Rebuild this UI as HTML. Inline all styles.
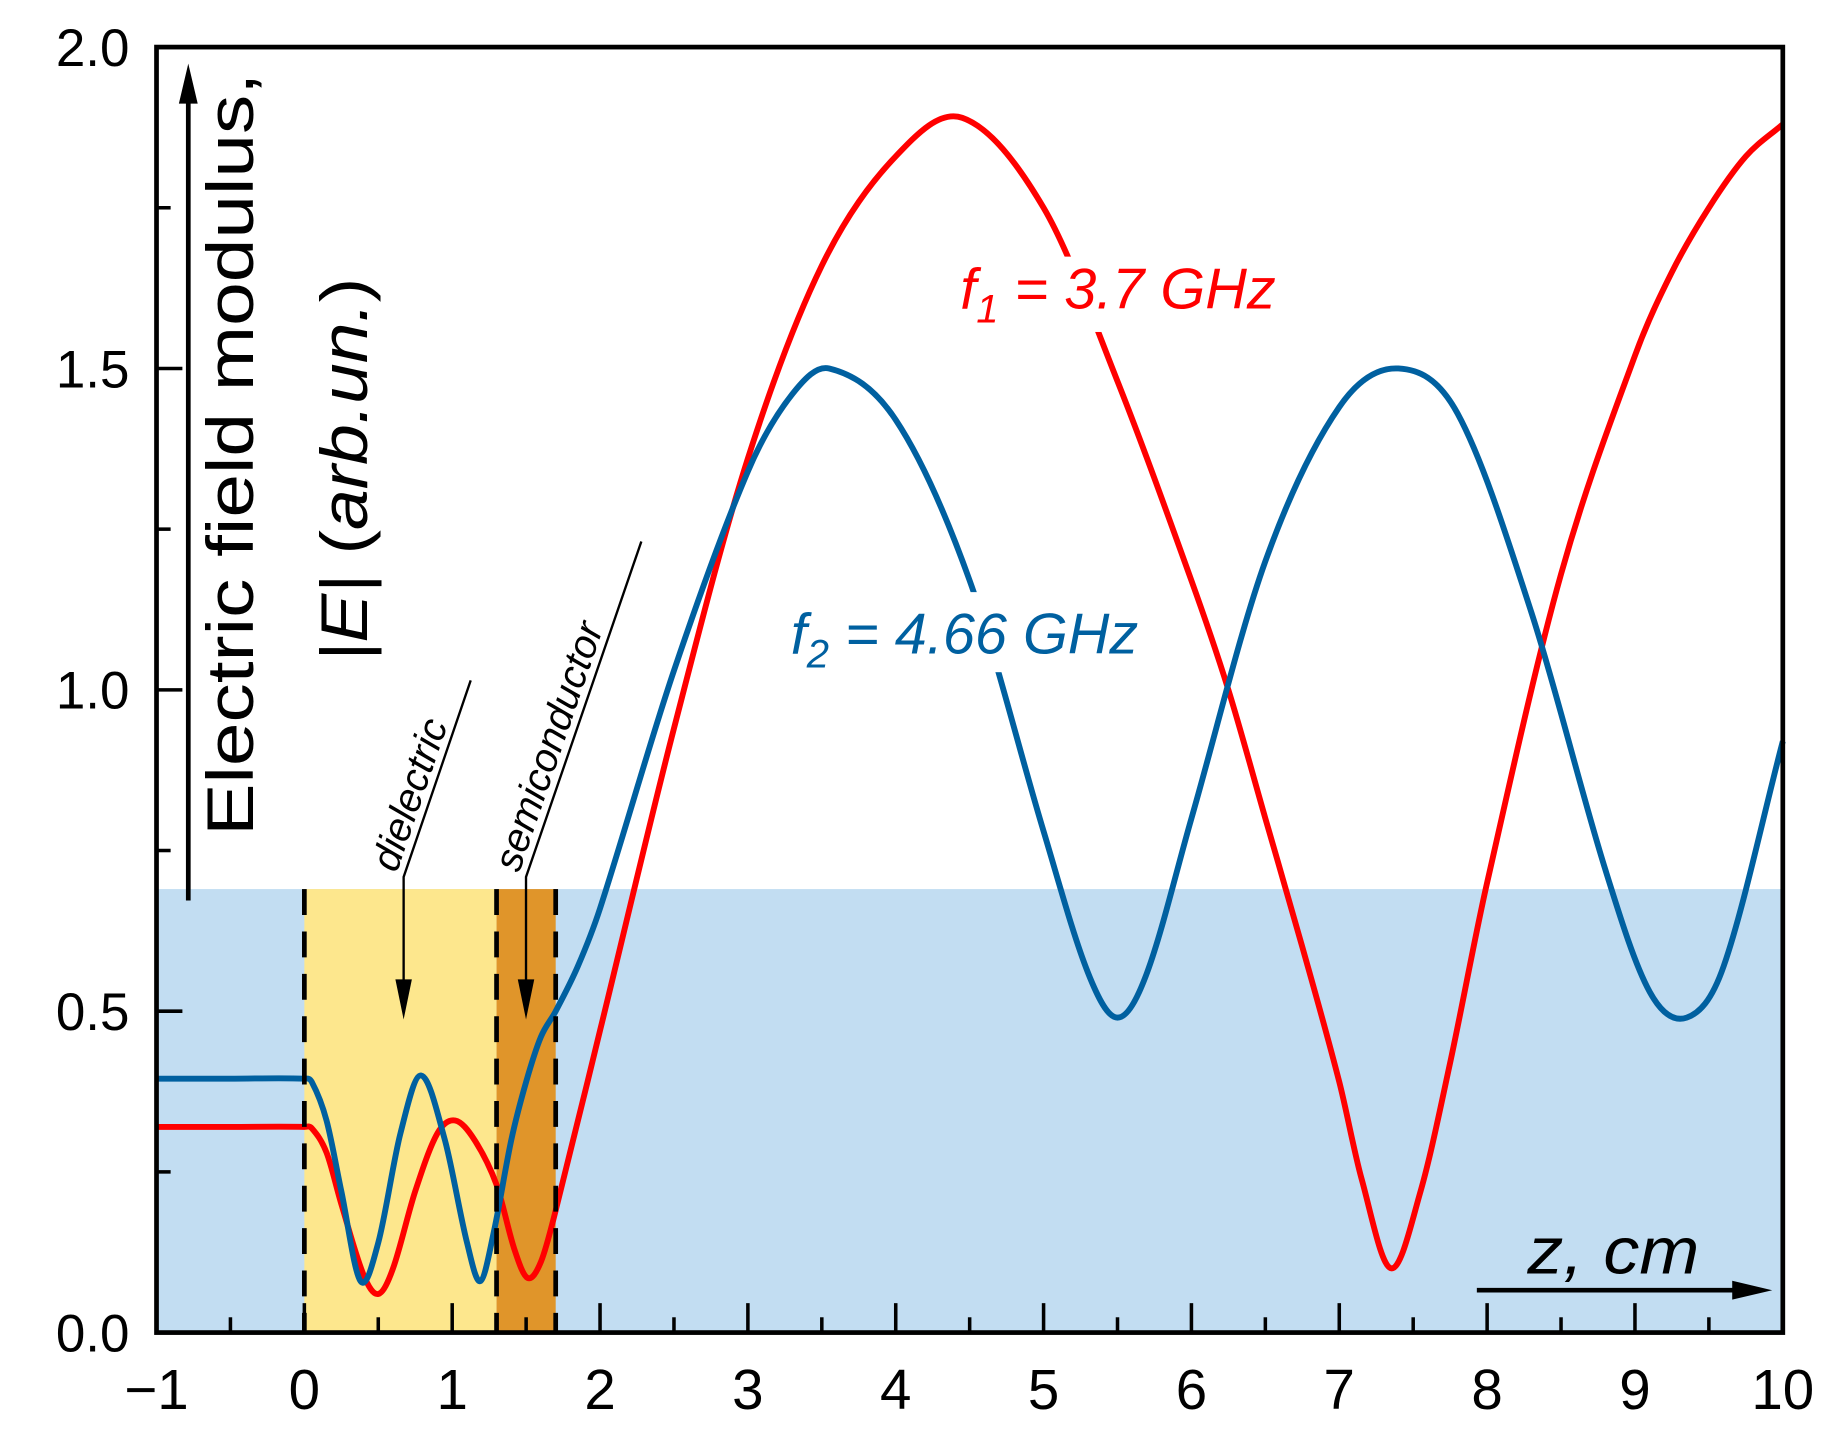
<!DOCTYPE html>
<html><head><meta charset="utf-8"><style>
html,body{margin:0;padding:0;background:#fff;}
svg{display:block;}
text{font-family:"Liberation Sans",sans-serif;}
</style></head><body>
<svg id="chart" width="1844" height="1455" viewBox="0 0 1567 1236" preserveAspectRatio="none" xmlns="http://www.w3.org/2000/svg">
<g id="bg"></g>
<g id="series"></g>
<g id="axes"></g>
<g id="annot"></g>
</svg>
<script>
const xTicks = [-1,0,1,2,3,4,5,6,7,8,9,10];
const xTickLabels = ["\u22121","0","1","2","3","4","5","6","7","8","9","10"];
const yTicks = [0,0.5,1,1.5,2];
const yTickLabels = ["0.0","0.5","1.0","1.5","2.0"];
const regionBounds = [0, 1.3, 1.7];
const bandTop = 0.69;
const redX = [-1,-0.5,0,0.05,0.15,0.25,0.4,0.5,0.6,0.75,0.9,1.02,1.15,1.3,1.42,1.51,1.6,1.7,2.0,2.5,3.0,3.5,4.0,4.45,5.0,5.5,6.0,6.25,6.5,6.75,7.0,7.15,7.35,7.55,7.75,8.0,8.5,9.0,9.25,9.5,9.75,10];
const redY = [0.32,0.32,0.32,0.318,0.28,0.20,0.09,0.06,0.10,0.22,0.31,0.33,0.30,0.23,0.13,0.085,0.11,0.19,0.47,0.94,1.36,1.66,1.83,1.89,1.75,1.48,1.17,1.0,0.80,0.60,0.39,0.24,0.10,0.22,0.42,0.70,1.18,1.52,1.65,1.75,1.83,1.88];
const blueX = [-1,-0.5,0,0.05,0.15,0.25,0.38,0.5,0.65,0.79,0.95,1.1,1.19,1.28,1.4,1.5,1.6,1.7,1.85,2.0,2.5,3.0,3.3,3.55,4.0,4.5,5.0,5.3,5.5,5.7,6.0,6.5,7.0,7.4,7.8,8.3,8.8,9.1,9.35,9.6,10];
const blueY = [0.395,0.395,0.395,0.39,0.33,0.22,0.08,0.14,0.31,0.40,0.30,0.14,0.08,0.155,0.30,0.39,0.46,0.50,0.57,0.66,1.03,1.34,1.46,1.50,1.42,1.17,0.78,0.56,0.49,0.56,0.80,1.20,1.44,1.50,1.43,1.12,0.72,0.53,0.49,0.57,0.92];

const X0=133, X1=1515, Y0=1132, Y1=40;
const sx = v => X0 + (v+1)/11*(X1-X0);
const sy = v => Y0 - v/2*(Y0-Y1);
const NS="http://www.w3.org/2000/svg";
function mk(tag, attrs, parent){const e=document.createElementNS(NS,tag);for(const k in attrs)e.setAttribute(k,attrs[k]);parent.appendChild(e);return e;}
const bg=document.getElementById('bg'), ser=document.getElementById('series'), ax=document.getElementById('axes');

let r=mk('rect',{x:X0,y:sy(bandTop),width:X1-X0,height:Y0-sy(bandTop),fill:'#c2ddf2'},bg);


r=mk('rect',{x:sx(regionBounds[0]),y:sy(bandTop),width:sx(regionBounds[1])-sx(regionBounds[0]),height:Y0-sy(bandTop),fill:'#fde78d'},bg);


r=mk('rect',{x:sx(regionBounds[1]),y:sy(bandTop),width:sx(regionBounds[2])-sx(regionBounds[1]),height:Y0-sy(bandTop),fill:'#e0952a'},bg);



function pathFor(xs,ys){
  const p=xs.map((x,i)=>[sx(x),sy(ys[i])]);
  const n=p.length;
  const m=p.map((q,i)=>{
    const a=p[Math.max(0,i-1)], b=p[Math.min(n-1,i+1)];
    return (b[1]-a[1])/(b[0]-a[0]);
  });
  let d='M'+p[0][0]+','+p[0][1];
  for(let i=0;i<n-1;i++){
    const dx=(p[i+1][0]-p[i][0])/3;
    d+=' C'+(p[i][0]+dx)+','+(p[i][1]+m[i]*dx)+' '+(p[i+1][0]-dx)+','+(p[i+1][1]-m[i+1]*dx)+' '+p[i+1][0]+','+p[i+1][1];
  }
  return d;
}
let pr=mk('path',{d:pathFor(redX,redY),fill:'none',stroke:'#ff0000','stroke-width':5,'stroke-linejoin':'round'},ser);


let pb=mk('path',{d:pathFor(blueX,blueY),fill:'none',stroke:'#0060a0','stroke-width':5,'stroke-linejoin':'round'},ser);



regionBounds.forEach(b=>{
  const l=mk('line',{x1:sx(b),x2:sx(b),y1:sy(bandTop),y2:Y0,stroke:'#000','stroke-width':4,'stroke-dasharray':'22,14'},ax);
  
  
});

for(let v=-1; v<=10.01; v+=0.5){
  const major=Math.abs(v-Math.round(v))<1e-6;
  const t=mk('line',{x1:sx(v),x2:sx(v),y1:Y0,y2:Y0-(major?25:13),stroke:'#000','stroke-width':3},ax);
  
  
}
for(let v=0; v<=2.01; v+=0.25){
  const major=Math.abs(v*2-Math.round(v*2))<1e-6;
  const t=mk('line',{x1:X0,x2:X0+(major?22:12),y1:sy(v),y2:sy(v),stroke:'#000','stroke-width':3},ax);
  
  
}
xTicks.forEach((v,i)=>{
  const t=mk('text',{x:sx(v),y:1197,'font-size':48,'text-anchor':'middle',fill:'#000'},ax);
  t.textContent=xTickLabels[i];
  
  
});
yTicks.forEach((v,i)=>{
  const t=mk('text',{x:110,y:sy(v)+16,'font-size':45,'text-anchor':'end',fill:'#000'},ax);
  t.textContent=yTickLabels[i];
  
  
});
let fr=mk('rect',{x:X0,y:Y1,width:X1-X0,height:Y0-Y1,fill:'none',stroke:'#000','stroke-width':4},ax);


</script>
<script>
(function(){
const an=document.getElementById('annot');
an.innerHTML = `
<g>
 <line x1="160" y1="765" x2="160" y2="80" stroke="#000" stroke-width="4"/>
 <path d="M152,88 L160,54 L168,88 Z" fill="#000"/>
 <text transform="translate(215,710) rotate(-90)" font-size="56" textLength="648" lengthAdjust="spacingAndGlyphs" fill="#000">Electric field modulus,</text>
 <text transform="translate(312,562) rotate(-90)" font-size="56" textLength="326" lengthAdjust="spacingAndGlyphs" fill="#000"><tspan font-style="italic">|E|</tspan> (<tspan font-style="italic">arb.un.</tspan>)</text>
</g>
<g>
 <text x="1298" y="1082" font-size="56" font-style="italic" textLength="146" lengthAdjust="spacingAndGlyphs" fill="#000">z, cm</text>
 <line x1="1255" y1="1096" x2="1480" y2="1096" stroke="#000" stroke-width="4"/>
 <path d="M1472,1088 L1506,1096 L1472,1104 Z" fill="#000"/>
</g>
<g>
 <rect x="805" y="218" width="300" height="64" fill="#fff"/>
 <text x="816" y="262" font-size="49" font-style="italic" fill="#ff0000">f<tspan font-size="34" dy="12">1</tspan><tspan dy="-12"> = 3.7 GHz</tspan></text>
</g>
<g>
 <rect x="660" y="503" width="330" height="68" fill="#fff"/>
 <text x="672" y="555" font-size="49" font-style="italic" fill="#0060a0">f<tspan font-size="34" dy="12">2</tspan><tspan dy="-12"> = 4.66 GHz</tspan></text>
</g>
<g>
 <polyline points="400,578 343,745 343,835" fill="none" stroke="#000" stroke-width="2"/>
 <path d="M336,832 L343,866 L350,832 Z" fill="#000"/>
 <text transform="translate(337,742) rotate(-71)" font-size="34" font-style="italic" fill="#000">dielectric</text>
</g>
<g>
 <polyline points="545,460 447,745 447,835" fill="none" stroke="#000" stroke-width="2"/>
 <path d="M440,832 L447,866 L454,832 Z" fill="#000"/>
 <text transform="translate(441,742) rotate(-71)" font-size="34" font-style="italic" fill="#000">semiconductor</text>
</g>`;
})();
</script>
</body></html>
